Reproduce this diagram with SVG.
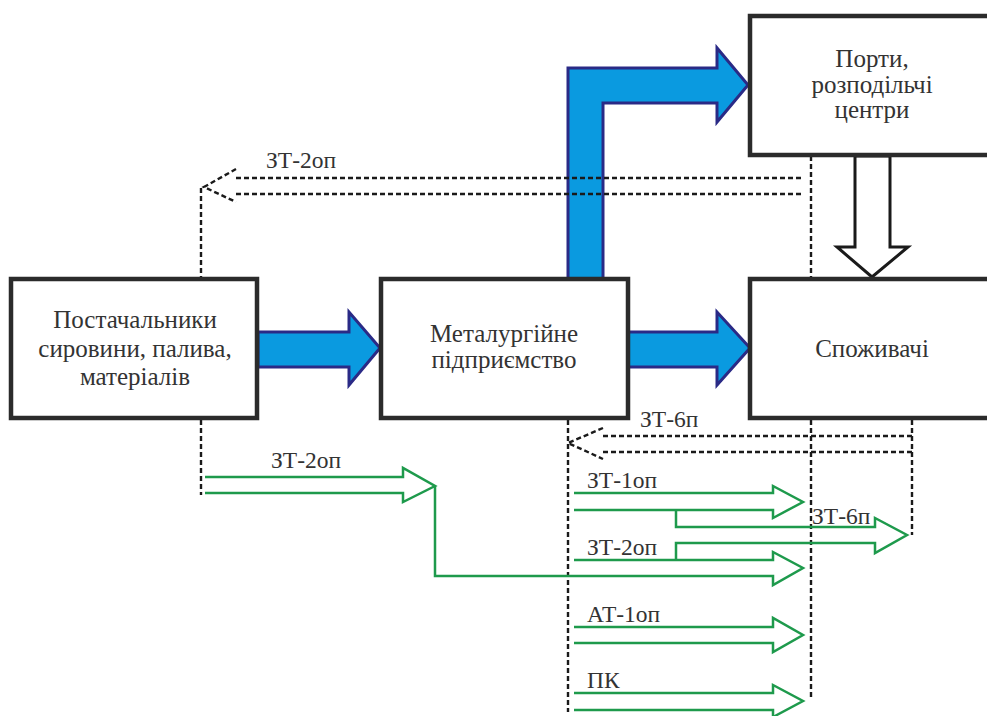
<svg xmlns="http://www.w3.org/2000/svg" width="987" height="716" viewBox="0 0 987 716">
<style>
.box{fill:#fff;stroke:#2b2b2b;stroke-width:4.5}
.blue{fill:#0a9ae0;stroke:#2a2a86;stroke-width:3;stroke-linejoin:miter}
.white{fill:#fff;stroke:#1a1a1a;stroke-width:3}
.dot{fill:none;stroke:#1a1a1a;stroke-width:2.4;stroke-dasharray:5 3}
.grn{fill:none;stroke:#1e9a4c;stroke-width:2.5;stroke-linejoin:miter}
</style>
<rect width="987" height="716" fill="#fff"/>
<g id="connectors">
  <polygon class="blue" points="258,332 349,332 349,312 380,348 349,385 349,367 258,367"/>
  <polygon class="blue" points="626,332 717,332 717,312 750,348 717,385 717,367 626,367"/>
  <polygon class="blue" points="568,280 568,68 717,68 717,48 748,85 717,122 717,103 603,103 603,280"/>
  <polygon class="white" points="855,156 855,247 837,247 872,277 908,247 890,247 890,156"/>
  <path class="dot" d="M236,178 H802 M236,194 H802 M236,169 L204,187 L236,202 M201,188 V278"/>
  <path class="dot" d="M811,156 V278 M811,420 V700 M568,420 V712 M912,420 V535 M201,420 V495"/>
  <path class="dot" d="M603,436 H912 M603,452 H912 M603,428 L568,443 L603,459"/>
  <path class="grn" d="M205,477 H403 V468 L435,486 L403,502 V493 H205"/>
  <path class="grn" d="M435,486 V576 H773 V585 L803,568 L773,552 V560 H574"/>
  <path class="grn" d="M574,493 H773 V486 L803,502 L773,518 V510 H574"/>
  <path class="grn" d="M676,510 V527 H875 V518 L907,535 L875,553 V543 H676 V560"/>
  <path class="grn" d="M574,627 H773 V618 L803,635 L773,652 V643 H574"/>
  <path class="grn" d="M574,693 H773 V685 L803,701 L773,717 V710 H574"/>
  <g font-family="Liberation Serif, Times New Roman, serif" font-size="23.5" fill="#333">
    <text x="266" y="168">ЗТ-2оп</text>
    <text x="271" y="468">ЗТ-2оп</text>
    <text x="640" y="427">ЗТ-6п</text>
    <text x="587" y="488">ЗТ-1оп</text>
    <text x="812" y="524">ЗТ-6п</text>
    <text x="587" y="555">ЗТ-2оп</text>
    <text x="587" y="622">АТ-1оп</text>
    <text x="587" y="688">ПК</text>
  </g>
</g>
<g font-family="Liberation Serif, Times New Roman, serif" font-size="25" fill="#333" text-anchor="middle">
<g id="suppliers">
  <rect class="box" x="11" y="279" width="246" height="139"/>
  <text x="135" y="328">Постачальники</text>
  <text x="135" y="357">сировини, палива,</text>
  <text x="135" y="385">матеріалів</text>
</g>
<g id="plant">
  <rect class="box" x="381" y="279" width="247" height="139"/>
  <text x="504" y="342">Металургійне</text>
  <text x="504" y="368">підприємство</text>
</g>
<g id="consumers">
  <rect class="box" x="750" y="279" width="260" height="139"/>
  <text x="872" y="357">Споживачі</text>
</g>
<g id="ports">
  <rect class="box" x="750" y="16" width="260" height="139"/>
  <text x="872" y="67">Порти,</text>
  <text x="872" y="93">розподільчі</text>
  <text x="872" y="118">центри</text>
</g>
</g>
</svg>
